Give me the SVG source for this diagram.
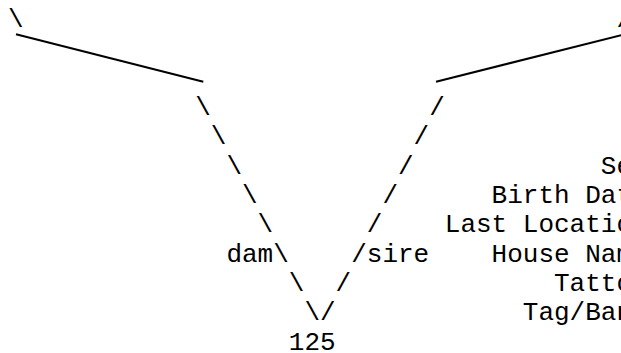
<svg xmlns="http://www.w3.org/2000/svg" width="621" height="353" viewBox="0 0 621 353">
<style>
text { font-family: "Liberation Mono", "Courier New", monospace; font-size: 26px; fill: #000; }
.edge { stroke: #000; stroke-width: 2; fill: none; }
</style>
<rect width="621" height="353" fill="#fff"/>
<g id="connectors">
  <line class="edge" x1="16" y1="34.3" x2="203.3" y2="81.7"/>
  <line class="edge" x1="436" y1="81.7" x2="622" y2="35"/>
  <text x="8" y="27">\</text>
  <text x="616.4" y="27">/</text>
  <text x="195.2" y="115">\</text>
  <text x="210.8" y="144.3">\</text>
  <text x="226.4" y="173.7">\</text>
  <text x="242" y="203">\</text>
  <text x="257.6" y="232.3">\</text>
  <text x="273.2" y="261.7">\</text>
  <text x="288.8" y="291">\</text>
  <text x="304.4" y="320.3">\</text>
  <text x="429.2" y="115">/</text>
  <text x="413.6" y="144.3">/</text>
  <text x="398" y="173.7">/</text>
  <text x="382.4" y="203">/</text>
  <text x="366.8" y="232.3">/</text>
  <text x="351.2" y="261.7">/</text>
  <text x="335.6" y="291">/</text>
  <text x="320" y="320.3">/</text>
</g>
<g id="node-dam">
  <text x="226.4" y="261.7">dam</text>
</g>
<g id="node-sire">
  <text x="366.8" y="261.7">sire</text>
</g>
<g id="node-125">
  <text x="288.8" y="349.6">125</text>
</g>
<g id="node-fields">
  <text x="600.8" y="173.7">Sex</text>
  <text x="491.6" y="203">Birth Date</text>
  <text x="444.8" y="232.3">Last Location</text>
  <text x="491.6" y="261.7">House Name</text>
  <text x="554" y="291">Tattoo</text>
  <text x="522.8" y="320.3">Tag/Band</text>
</g>
</svg>
